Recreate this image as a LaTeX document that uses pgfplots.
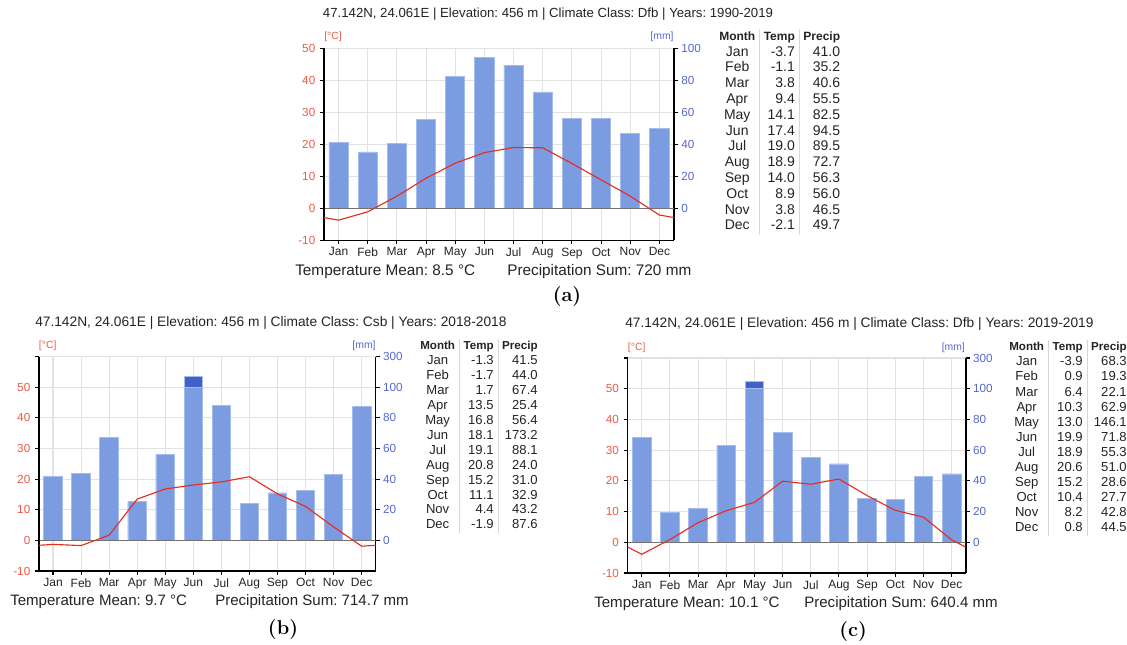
\documentclass[border=0pt]{standalone}
\usepackage{pgfplots}
\pgfplotsset{compat=1.18}
\usepackage{pgfplotstable}
\usepackage{fontspec}
\setsansfont{Liberation Sans}
\usepackage{array}
\definecolor{tred}{RGB}{230,45,30}
\definecolor{tlab}{RGB}{236,90,70}
\definecolor{plab}{RGB}{84,104,212}
\definecolor{barc}{RGB}{124,156,225}
\definecolor{bare}{RGB}{165,188,238}
\definecolor{bardk}{RGB}{64,98,200}
\definecolor{gridc}{RGB}{226,226,226}
\definecolor{txt}{RGB}{35,35,35}
\definecolor{rulec}{RGB}{215,215,215}

\pgfplotstableread{
m t p
1 -3.7 41.0
2 -1.1 35.2
3 3.8 40.6
4 9.4 55.5
5 14.1 82.5
6 17.4 94.5
7 19.0 89.5
8 18.9 72.7
9 14.0 56.3
10 8.9 56.0
11 3.8 46.5
12 -2.1 49.7
}\dataA
\pgfplotstableread{
m t p
1 -1.3 41.5
2 -1.7 44.0
3 1.7 67.4
4 13.5 25.4
5 16.8 56.4
6 18.1 173.2
7 19.1 88.1
8 20.8 24.0
9 15.2 31.0
10 11.1 32.9
11 4.4 43.2
12 -1.9 87.6
}\dataB
\pgfplotstableread{
m t p
1 -3.9 68.3
2 0.9 19.3
3 6.4 22.1
4 10.3 62.9
5 13.0 146.1
6 19.9 71.8
7 18.9 55.3
8 20.6 51.0
9 15.2 28.6
10 10.4 27.7
11 8.2 42.8
12 0.8 44.5
}\dataC

\pgfplotsset{
  precax/.style={
    scale only axis, xmin=0.5, xmax=12.5, ymin=-20,
    axis x line*=bottom, axis y line*=right,
    axis line style={black, line width=1.2pt},
    xtick={1,...,12},
    xticklabels={Jan,Feb,Mar,Apr,May,Jun,Jul,Aug,Sep,Oct,Nov,Dec},
    xmajorgrids, ymajorgrids,
    grid style={gridc, line width=0.8pt},
    tick align=outside,
    major tick length=3pt,
    tick style={black, line width=0.8pt},
    x tick label style={font=\fontsize{9}{10}\selectfont\sffamily, text=txt, yshift=1pt},
    y tick label style={font=\fontsize{8.8}{10}\selectfont\sffamily, text=plab, xshift=-1pt},
    /pgf/number format/assume math mode=true,
  },
  tempax/.style={
    scale only axis, xmin=0.5, xmax=12.5, ymin=-10,
    axis x line=none, axis y line*=left,
    axis line style={black, line width=1.1pt},
    tick align=outside, major tick length=3pt,
    tick style={black, line width=0.8pt},
    y tick label style={font=\fontsize{8.8}{10}\selectfont\sffamily, text=tlab},
    /pgf/number format/assume math mode=true,
  },
  lightbar/.style={ybar, bar width=0.66, bar shift=0pt, fill=barc, draw=bare, line width=0.6pt},
  darkbar/.style={ybar, bar width=0.66, bar shift=0pt, fill=bardk, draw=bare, line width=0.6pt},
  templine/.style={tred, line width=0.85pt, mark=none},
}

\begin{document}
\frenchspacing
\begin{tikzpicture}[x=0.75pt,y=0.75pt]
\useasboundingbox (0,0) rectangle (1127,644);
\sffamily

%% ---------------- (a) ----------------
\begin{axis}[precax, at={(243pt,302.775pt)}, anchor=south west,
  width=262.5pt, height=144pt, ymax=100, ytick={0,20,...,100}]
  \addplot[lightbar] table[x=m,y=p]{\dataA};
  \draw[black!55, line width=0.8pt] (axis cs:0.5,0) -- (axis cs:12.5,0);
\end{axis}
\begin{axis}[tempax, at={(243pt,302.775pt)}, anchor=south west,
  width=262.5pt, height=144pt, ymax=50, ytick={-10,0,...,50}]
  \addplot[templine] coordinates {(0.5,-2.9) (1,-3.7) (2,-1.1) (3,3.8) (4,9.4) (5,14.1) (6,17.4) (7,19.0) (8,18.9) (9,14.0) (10,8.9) (11,3.8) (12,-2.1) (12.5,-2.9)};
\end{axis}
\node[text=txt, font=\fontsize{9.9}{11}\selectfont] at (548,630) {47.142N, 24.061E | Elevation: 456 m | Climate Class: Dfb | Years: 1990-2019};
\node[text=tlab, font=\fontsize{7.8}{9}\selectfont] at (333,607) {[°C]};
\node[text=plab, font=\fontsize{7.8}{9}\selectfont] at (662,607) {[mm]};
\node[text=txt, anchor=west, inner sep=0pt, font=\fontsize{11.5}{13}\selectfont] at (295,372.5) {Temperature Mean: 8.5 °C};
\node[text=txt, anchor=west, inner sep=0pt, font=\fontsize{11.5}{13}\selectfont] at (507,372.5) {Precipitation Sum: 720 mm};
\node[font=\fontsize{15}{17}\selectfont\rmfamily\bfseries] at (567,347) {(a)};
\node[anchor=north west, inner sep=0pt, text=txt] at (719,615) {\fontsize{10.5}{11.85}\selectfont\setlength{\tabcolsep}{3pt}%
\begin{tabular}{@{}c!{\color{rulec}\vrule}r!{\color{rulec}\vrule}r@{}}
{\fontsize{9}{10}\selectfont\bfseries Month} & {\fontsize{9}{10}\selectfont\bfseries Temp} & {\fontsize{9}{10}\selectfont\bfseries Precip}\\
Jan & -3.7 & 41.0\\ Feb & -1.1 & 35.2\\ Mar & 3.8 & 40.6\\ Apr & 9.4 & 55.5\\
May & 14.1 & 82.5\\ Jun & 17.4 & 94.5\\ Jul & 19.0 & 89.5\\ Aug & 18.9 & 72.7\\
Sep & 14.0 & 56.3\\ Oct & 8.9 & 56.0\\ Nov & 3.8 & 46.5\\ Dec & -2.1 & 49.7
\end{tabular}};

%% ---------------- (b) ----------------
\begin{axis}[precax, at={(29.25pt,54.75pt)}, anchor=south west,
  width=252.5pt, height=160.7pt, ymax=120, ytick={0,20,...,120},
  yticklabels={0,20,40,60,80,100,300}]
  \addplot[darkbar, y filter/.expression={y>100 ? 100+(y-100)/10 : y}] table[x=m,y=p]{\dataB};
  \addplot[lightbar, y filter/.expression={min(y,100)}] table[x=m,y=p]{\dataB};
  \draw[black!55, line width=0.8pt] (axis cs:0.5,0) -- (axis cs:12.5,0);
\end{axis}
\begin{axis}[tempax, at={(29.25pt,54.75pt)}, anchor=south west,
  width=252.5pt, height=160.7pt, ymax=60, ytick={-10,0,...,60},
  yticklabels={-10,0,10,20,30,40,50,{}}]
  \addplot[templine] coordinates {(0.5,-1.6) (1,-1.3) (2,-1.7) (3,1.7) (4,13.5) (5,16.8) (6,18.1) (7,19.1) (8,20.8) (9,15.2) (10,11.1) (11,4.4) (12,-1.9) (12.5,-1.6)};
\end{axis}
\node[text=txt, anchor=west, inner sep=0pt, font=\fontsize{10.3}{12}\selectfont] at (35,321) {47.142N, 24.061E | Elevation: 456 m | Climate Class: Csb | Years: 2018-2018};
\node[text=tlab, font=\fontsize{7.8}{9}\selectfont] at (47.7,298) {[°C]};
\node[text=plab, font=\fontsize{7.8}{9}\selectfont] at (364,298) {[mm]};
\node[text=txt, anchor=west, inner sep=0pt, font=\fontsize{11.3}{13}\selectfont] at (10,42) {Temperature Mean: 9.7 °C};
\node[text=txt, anchor=west, inner sep=0pt, font=\fontsize{11.3}{13}\selectfont] at (215,42) {Precipitation Sum: 714.7 mm};
\node[font=\fontsize{15}{17}\selectfont\rmfamily\bfseries] at (283,14) {(b)};
\node[anchor=north west, inner sep=0pt, text=txt] at (420,305) {\fontsize{9.8}{11.2}\selectfont\setlength{\tabcolsep}{3pt}%
\begin{tabular}{@{}c!{\color{rulec}\vrule}r!{\color{rulec}\vrule}r@{}}
{\fontsize{8.7}{10}\selectfont\bfseries Month} & {\fontsize{8.7}{10}\selectfont\bfseries Temp} & {\fontsize{8.7}{10}\selectfont\bfseries Precip}\\
Jan & -1.3 & 41.5\\ Feb & -1.7 & 44.0\\ Mar & 1.7 & 67.4\\ Apr & 13.5 & 25.4\\
May & 16.8 & 56.4\\ Jun & 18.1 & 173.2\\ Jul & 19.1 & 88.1\\ Aug & 20.8 & 24.0\\
Sep & 15.2 & 31.0\\ Oct & 11.1 & 32.9\\ Nov & 4.4 & 43.2\\ Dec & -1.9 & 87.6
\end{tabular}};

%% ---------------- (c) ----------------
\begin{axis}[precax, at={(470.775pt,53.25pt)}, anchor=south west,
  width=253.5pt, height=161.25pt, ymax=120, ytick={0,20,...,120},
  yticklabels={0,20,40,60,80,100,300}]
  \addplot[darkbar, y filter/.expression={y>100 ? 100+(y-100)/10 : y}] table[x=m,y=p]{\dataC};
  \addplot[lightbar, y filter/.expression={min(y,100)}] table[x=m,y=p]{\dataC};
  \draw[black!55, line width=0.8pt] (axis cs:0.5,0) -- (axis cs:12.5,0);
\end{axis}
\begin{axis}[tempax, at={(470.775pt,53.25pt)}, anchor=south west,
  width=253.5pt, height=161.25pt, ymax=60, ytick={-10,0,...,60},
  yticklabels={-10,0,10,20,30,40,50,{}}]
  \addplot[templine] coordinates {(0.5,-1.55) (1,-3.9) (2,0.9) (3,6.4) (4,10.3) (5,13.0) (6,19.9) (7,18.9) (8,20.6) (9,15.2) (10,10.4) (11,8.2) (12,0.8) (12.5,-1.55)};
\end{axis}
\node[text=txt, anchor=west, inner sep=0pt, font=\fontsize{10.3}{12}\selectfont] at (625,320) {47.142N, 24.061E | Elevation: 456 m | Climate Class: Dfb | Years: 2019-2019};
\node[text=tlab, font=\fontsize{7.8}{9}\selectfont] at (636.7,296.3) {[°C]};
\node[text=plab, font=\fontsize{7.8}{9}\selectfont] at (953.3,296.3) {[mm]};
\node[text=txt, anchor=west, inner sep=0pt, font=\fontsize{11.3}{13}\selectfont] at (594,40) {Temperature Mean: 10.1 °C};
\node[text=txt, anchor=west, inner sep=0pt, font=\fontsize{11.3}{13}\selectfont] at (804,40) {Precipitation Sum: 640.4 mm};
\node[font=\fontsize{15}{17}\selectfont\rmfamily\bfseries] at (853,12) {(c)};
\node[anchor=north west, inner sep=0pt, text=txt] at (1009,304) {\fontsize{9.8}{11.3}\selectfont\setlength{\tabcolsep}{3pt}%
\begin{tabular}{@{}c!{\color{rulec}\vrule}r!{\color{rulec}\vrule}r@{}}
{\fontsize{8.7}{10}\selectfont\bfseries Month} & {\fontsize{8.7}{10}\selectfont\bfseries Temp} & {\fontsize{8.7}{10}\selectfont\bfseries Precip}\\
Jan & -3.9 & 68.3\\ Feb & 0.9 & 19.3\\ Mar & 6.4 & 22.1\\ Apr & 10.3 & 62.9\\
May & 13.0 & 146.1\\ Jun & 19.9 & 71.8\\ Jul & 18.9 & 55.3\\ Aug & 20.6 & 51.0\\
Sep & 15.2 & 28.6\\ Oct & 10.4 & 27.7\\ Nov & 8.2 & 42.8\\ Dec & 0.8 & 44.5
\end{tabular}};
\end{tikzpicture}
\end{document}
